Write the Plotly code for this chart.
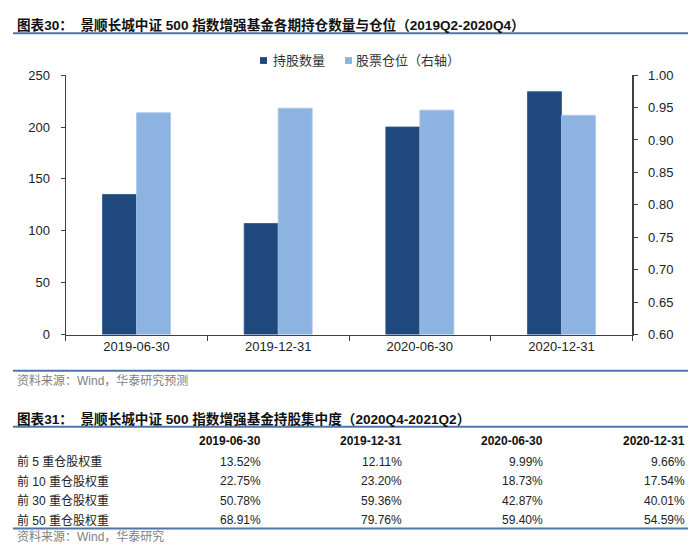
import plotly.graph_objects as go

W, H = 700, 554

# ---- chart data ----
dates = ["2019-06-30", "2019-12-31", "2020-06-30", "2020-12-31"]
holdings_count = [135, 107, 200, 234]
stock_position = [0.942, 0.949, 0.946, 0.938]
series_names = ["持股数量", "股票仓位（右轴）"]

# ---- table data ----
table_header = ["2019-06-30", "2019-12-31", "2020-06-30", "2020-12-31"]
row_labels = ["前 5 重仓股权重", "前 10 重仓股权重", "前 30 重仓股权重", "前 50 重仓股权重"]
top5 = ["13.52%", "12.11%", "9.99%", "9.66%"]
top10 = ["22.75%", "23.20%", "18.73%", "17.54%"]
top30 = ["50.78%", "59.36%", "42.87%", "40.01%"]
top50 = ["68.91%", "79.76%", "59.40%", "54.59%"]

title1 = "图表30：  景顺长城中证 500 指数增强基金各期持仓数量与仓位（2019Q2-2020Q4）"
title2 = "图表31：  景顺长城中证 500 指数增强基金持股集中度（2020Q4-2021Q2）"
source1 = "资料来源：Wind，华泰研究预测"
source2 = "资料来源：Wind，华泰研究"

DARK = "#1F497D"
LIGHT = "#8DB3E2"
LINE = "#4F74A8"
FONT = "Liberation Sans, Noto Sans CJK SC, sans-serif"
AXC = "#404040"

def px(x):
    return x / W

def py(y):
    return 1 - y / H

fig = go.Figure()
fig.add_trace(go.Bar(
    x=dates, y=holdings_count, name=series_names[0], yaxis="y",
    marker=dict(color=DARK, line=dict(color="#2A5590", width=0.8)),
    width=0.24, offset=-0.24, showlegend=False))
fig.add_trace(go.Bar(
    x=dates, y=stock_position, name=series_names[1], yaxis="y2",
    marker=dict(color=LIGHT, line=dict(color="#A9C6EA", width=0.8)),
    width=0.24, offset=0.0, base=0, showlegend=False))

x0, x1 = 65.7, 632.3
ytop, ybot = 70, 336.7

fig.update_layout(
    width=W, height=H,
    margin=dict(l=0, r=0, t=0, b=0),
    paper_bgcolor="white", plot_bgcolor="white",
    font=dict(family=FONT, size=13, color="#222222"),
    xaxis=dict(domain=[px(x0), px(x1)], type="category",
               showline=True, linecolor=AXC, linewidth=1.2,
               ticks="outside", tickson="boundaries", ticklen=5, tickcolor=AXC,
               showgrid=False, tickfont=dict(size=13, color="#222222")),
    yaxis=dict(domain=[py(ybot), py(ytop)], range=[0, 250], dtick=50,
               showline=True, linecolor=AXC, linewidth=1.2,
               ticks="outside", ticklen=4, tickcolor=AXC, showgrid=False,
               zeroline=False, ticklabelstandoff=8,
               tickfont=dict(size=13, color="#222222")),
    yaxis2=dict(overlaying="y", side="right", range=[0.6, 1.0], dtick=0.05,
                tickformat=".2f", showline=True, linecolor=AXC, linewidth=1.2,
                ticks="outside", ticklen=4, tickcolor=AXC, showgrid=False,
                zeroline=False, ticklabelstandoff=8,
                tickfont=dict(size=13, color="#222222")),
    showlegend=False,
)

annotations = []
shapes = []

def text(x, y, s, size=12, color="#222222", anchor="left", bold=False):
    if bold:
        s = "<b>" + s + "</b>"
    annotations.append(dict(x=px(x), y=py(y), xref="paper", yref="paper", text=s,
                            showarrow=False, xanchor=anchor, yanchor="middle",
                            font=dict(size=size, color=color, family=FONT)))

def hline(y, xa=13, xb=688, width=2):
    shapes.append(dict(type="line", xref="paper", yref="paper",
                       x0=px(xa), x1=px(xb), y0=py(y), y1=py(y),
                       line=dict(color=LINE, width=width)))

def square(x, y, s, color):
    shapes.append(dict(type="rect", xref="paper", yref="paper",
                       x0=px(x), x1=px(x + s), y0=py(y + s / 2), y1=py(y - s / 2),
                       fillcolor=color, line=dict(width=0)))

# legend (custom, drawn to match reference spacing)
square(260, 55, 7, DARK)
text(271, 55, series_names[0], size=13, color="#333333")
square(345, 55, 7, LIGHT)
text(354, 55, series_names[1], size=13, color="#333333")

# titles, lines and sources
text(15, 18, title1, size=13.6, bold=True, color="#111111")
hline(27)
hline(374)
text(15, 384, source1, size=12, color="#7F7F7F")
text(15, 423, title2, size=13.6, bold=True, color="#111111")
hline(431.5)

# table
col_right = [263, 404, 545, 687]
for cx, h in zip(col_right, table_header):
    text(cx, 446, h, size=12, bold=True, anchor="right", color="#111111")
rows = [top5, top10, top30, top50]
row_y = [467.5, 487.5, 507.5, 527.5]
for ry, lab, vals in zip(row_y, row_labels, rows):
    text(15, ry, lab, size=12, color="#222222")
    for cx, v in zip(col_right, vals):
        text(cx, ry, v, size=12, anchor="right", color="#222222")
hline(536)
text(15, 544, source2, size=12, color="#7F7F7F")

fig.update_layout(annotations=annotations, shapes=shapes)
fig.write_html("out.html",
               config={"displayModeBar": False, "staticPlot": True},
               post_script="document.body.style.margin='0';document.body.style.overflow='hidden';")
